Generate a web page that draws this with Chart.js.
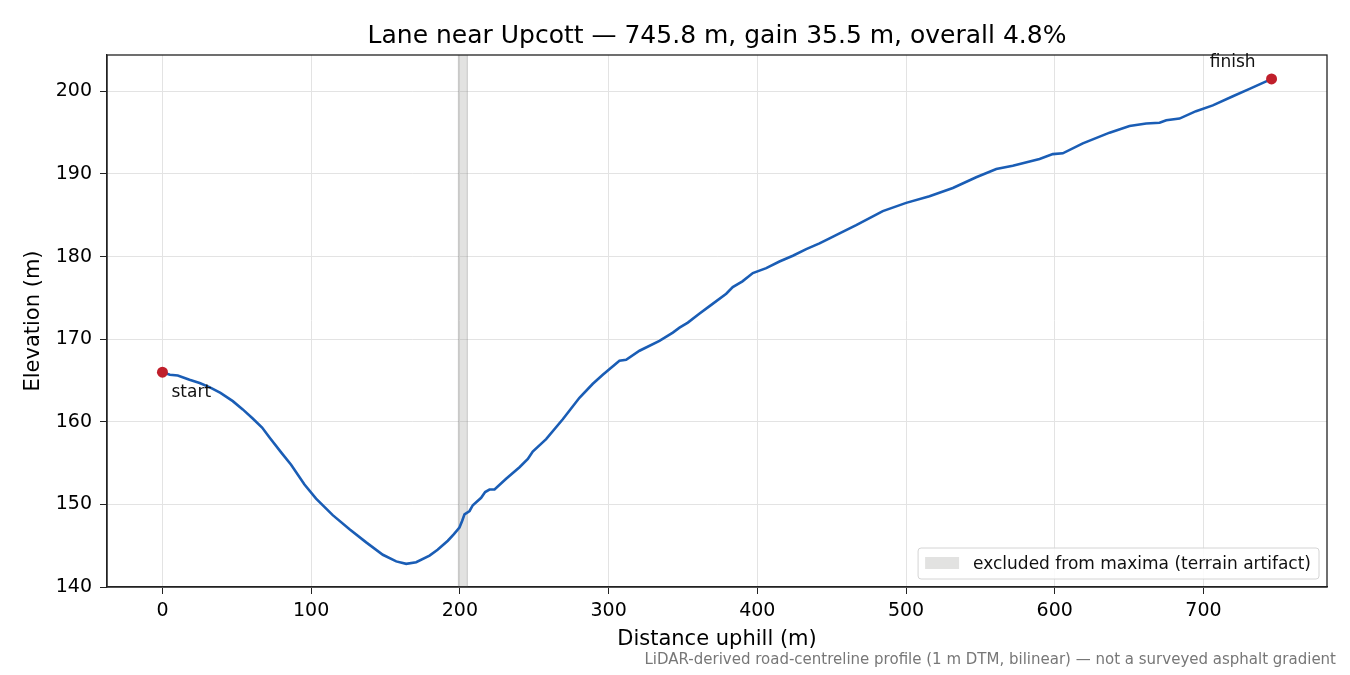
<!DOCTYPE html>
<html>
<head>
<meta charset="utf-8">
<script src="https://cdn.jsdelivr.net/npm/chart.js@4.4.1/dist/chart.umd.min.js"></script>
<style>
  html, body { margin: 0; padding: 0; background: #fff; }
  #wrap { width: 1350px; height: 675px; }
</style>
</head>
<body>
<div id="wrap"><canvas id="profileChart" width="1350" height="675"></canvas></div>
<script>
// --- profile data ---
const distances = [0, 5, 10.3, 18.2, 25, 31.6, 39, 47.3, 54, 60.7, 67, 72, 79.8, 86.5, 95.5, 103.3,
    114.5, 125.8, 137, 148.2, 157.2, 163.9, 170.6, 179.6, 185, 191.9, 196, 199.7, 201.5, 203.1,
    206.5, 208.7, 214.3, 217, 219.9, 223.3, 231.1, 240.1, 245.7, 249, 258, 269.2, 280.4, 289.4,
    296.1, 307.3, 311.8, 320.8, 334.2, 343.2, 347.7, 353.3, 361.2, 367.9, 379.1, 383.5, 390, 397,
    406, 414.9, 423.9, 432.9, 441.8, 448.6, 455.3, 466.5, 484.4, 500.1, 515.8, 531.5, 547.2,
    560.7, 571.8, 589.8, 598.7, 605.4, 618.9, 636.9, 650.3, 661.5, 670.5, 675, 683.9, 695,
    706.3, 719.8, 731, 742.2, 745.8];
const elevations = [166.0, 165.7, 165.6, 165.1, 164.7, 164.2, 163.5, 162.5, 161.5, 160.4, 159.3,
    158.1, 156.3, 154.8, 152.4, 150.7, 148.7, 147.0, 145.4, 143.9, 143.1, 142.8, 143.0, 143.8,
    144.5, 145.6, 146.4, 147.2, 148.0, 148.8, 149.2, 149.9, 150.8, 151.5, 151.8, 151.8, 153.1,
    154.5, 155.5, 156.4, 157.9, 160.3, 162.9, 164.6, 165.7, 167.4, 167.5, 168.6, 169.8, 170.8,
    171.4, 172.0, 173.1, 174.0, 175.5, 176.3, 177.0, 178.0, 178.6, 179.4, 180.1, 180.9, 181.6,
    182.2, 182.8, 183.8, 185.5, 186.5, 187.3, 188.3, 189.6, 190.6, 191.0, 191.8, 192.4, 192.5,
    193.7, 195.0, 195.8, 196.1, 196.2, 196.5, 196.7, 197.6, 198.3, 199.4, 200.3, 201.2, 201.5];

const endpointLabels = ['start', 'finish'];
const endpointDist = [0, 745.8];
const endpointElev = [166.0, 201.5];

const excludedSpan = [199, 205];

const xTicks = [0, 100, 200, 300, 400, 500, 600, 700];
const yTicks = [140, 150, 160, 170, 180, 190, 200];

const titleText = 'Lane near Upcott \u2014 745.8 m, gain 35.5 m, overall 4.8%';
const legendText = 'excluded from maxima (terrain artifact)';
const footText = 'LiDAR-derived road-centreline profile (1 m DTM, bilinear) \u2014 not a surveyed asphalt gradient';

const FONT = "'DejaVu Sans', sans-serif";
const AXIS = '#222222';
const GRID = '#e3e3e3';
const SPAN_FILL = 'rgba(160,160,155,0.3)';

// shaded span behind the line, plus frame, title, labels, legend and footnote
const extrasPlugin = {
    id: 'extras',
    beforeDatasetsDraw(chart) {
        const { ctx, chartArea: a, scales: { x } } = chart;
        const x0 = x.getPixelForValue(excludedSpan[0]);
        const x1 = x.getPixelForValue(excludedSpan[1]);
        ctx.save();
        ctx.fillStyle = SPAN_FILL;
        ctx.fillRect(x0, a.top, x1 - x0, a.bottom - a.top);
        ctx.strokeStyle = 'rgba(120,120,120,0.35)';
        ctx.lineWidth = 1;
        ctx.beginPath();
        ctx.moveTo(x0, a.top); ctx.lineTo(x0, a.bottom);
        ctx.moveTo(x1, a.top); ctx.lineTo(x1, a.bottom);
        ctx.stroke();
        ctx.restore();
    },
    afterDraw(chart) {
        const { ctx, chartArea: a, scales: { x, y } } = chart;
        ctx.save();
        // frame
        ctx.strokeStyle = AXIS;
        ctx.lineWidth = 1.3;
        ctx.strokeRect(a.left, a.top, a.right - a.left, a.bottom - a.top);

        // title
        ctx.fillStyle = '#000';
        ctx.font = '25px ' + FONT;
        ctx.textAlign = 'center';
        ctx.textBaseline = 'alphabetic';
        ctx.fillText(titleText, (a.left + a.right) / 2, 43);

        // endpoint labels
        ctx.font = '17px ' + FONT;
        ctx.fillStyle = '#111';
        ctx.textAlign = 'left';
        ctx.fillText(endpointLabels[0], x.getPixelForValue(endpointDist[0]) + 9, y.getPixelForValue(endpointElev[0]) + 25);
        ctx.textAlign = 'right';
        ctx.fillText(endpointLabels[1], x.getPixelForValue(endpointDist[1]) - 16, y.getPixelForValue(endpointElev[1]) - 12);

        // legend box, lower right inside the axes
        ctx.font = '17px ' + FONT;
        const tw = ctx.measureText(legendText).width;
        const bw = tw + 63, bh = 31;
        const bx = a.right - 8 - bw, by = a.bottom - 8 - bh;
        ctx.fillStyle = 'rgba(255,255,255,0.85)';
        ctx.strokeStyle = '#d4d4d4';
        ctx.lineWidth = 1;
        ctx.beginPath();
        ctx.roundRect(bx, by, bw, bh, 3);
        ctx.fill();
        ctx.stroke();
        ctx.fillStyle = SPAN_FILL;
        ctx.fillRect(bx + 7, by + 9, 34, 12);
        ctx.fillStyle = '#111';
        ctx.textAlign = 'left';
        ctx.textBaseline = 'middle';
        ctx.fillText(legendText, bx + 55, by + bh / 2 + 1);

        // footnote
        ctx.font = '15px ' + FONT;
        ctx.fillStyle = '#777';
        ctx.textAlign = 'right';
        ctx.textBaseline = 'middle';
        ctx.fillText(footText, 1336, 660);
        ctx.restore();
    }
};

const ctx = document.getElementById('profileChart').getContext('2d');
new Chart(ctx, {
    type: 'line',
    data: {
        datasets: [{
            label: 'profile',
            data: distances.map((d, i) => ({ x: d, y: elevations[i] })),
            borderColor: '#1a5db5',
            borderWidth: 2.6,
            pointRadius: 0,
            tension: 0,
            order: 2
        }, {
            label: 'endpoints',
            data: endpointDist.map((d, i) => ({ x: d, y: endpointElev[i] })),
            showLine: false,
            pointRadius: 5.5,
            pointBackgroundColor: '#c01f2b',
            pointBorderWidth: 0,
            order: 1
        }]
    },
    options: {
        responsive: false,
        devicePixelRatio: 1,
        animation: false,
        layout: { padding: { top: 55, right: 23, left: 0, bottom: 0 } },
        plugins: { legend: { display: false }, title: { display: false }, tooltip: { enabled: false } },
        scales: {
            x: {
                type: 'linear',
                min: -37.29,
                max: 783.09,
                afterBuildTicks: (scale) => { scale.ticks = xTicks.map(v => ({ value: v })); },
                afterFit: (scale) => { scale.height = 88; },
                grid: { color: GRID, lineWidth: 1, tickColor: AXIS, tickLength: 7 },
                border: { display: true, color: AXIS, width: 1.3 },
                ticks: { font: { family: FONT, size: 19 }, color: '#000', padding: 6, maxRotation: 0 },
                title: { display: true, text: 'Distance uphill (m)', font: { family: FONT, size: 21 }, color: '#000', padding: { top: 0, bottom: 23 } }
            },
            y: {
                min: 140,
                max: 204.4,
                afterBuildTicks: (scale) => { scale.ticks = yTicks.map(v => ({ value: v })); },
                afterFit: (scale) => { scale.width = 107; },
                grid: { color: GRID, lineWidth: 1, tickColor: AXIS, tickLength: 7 },
                border: { display: true, color: AXIS, width: 1.3 },
                ticks: { font: { family: FONT, size: 19 }, color: '#000', padding: 8 },
                title: { display: true, text: 'Elevation (m)', font: { family: FONT, size: 21 }, color: '#000', padding: { top: 21, bottom: 0 } }
            }
        }
    },
    plugins: [extrasPlugin]
});
</script>
</body>
</html>
